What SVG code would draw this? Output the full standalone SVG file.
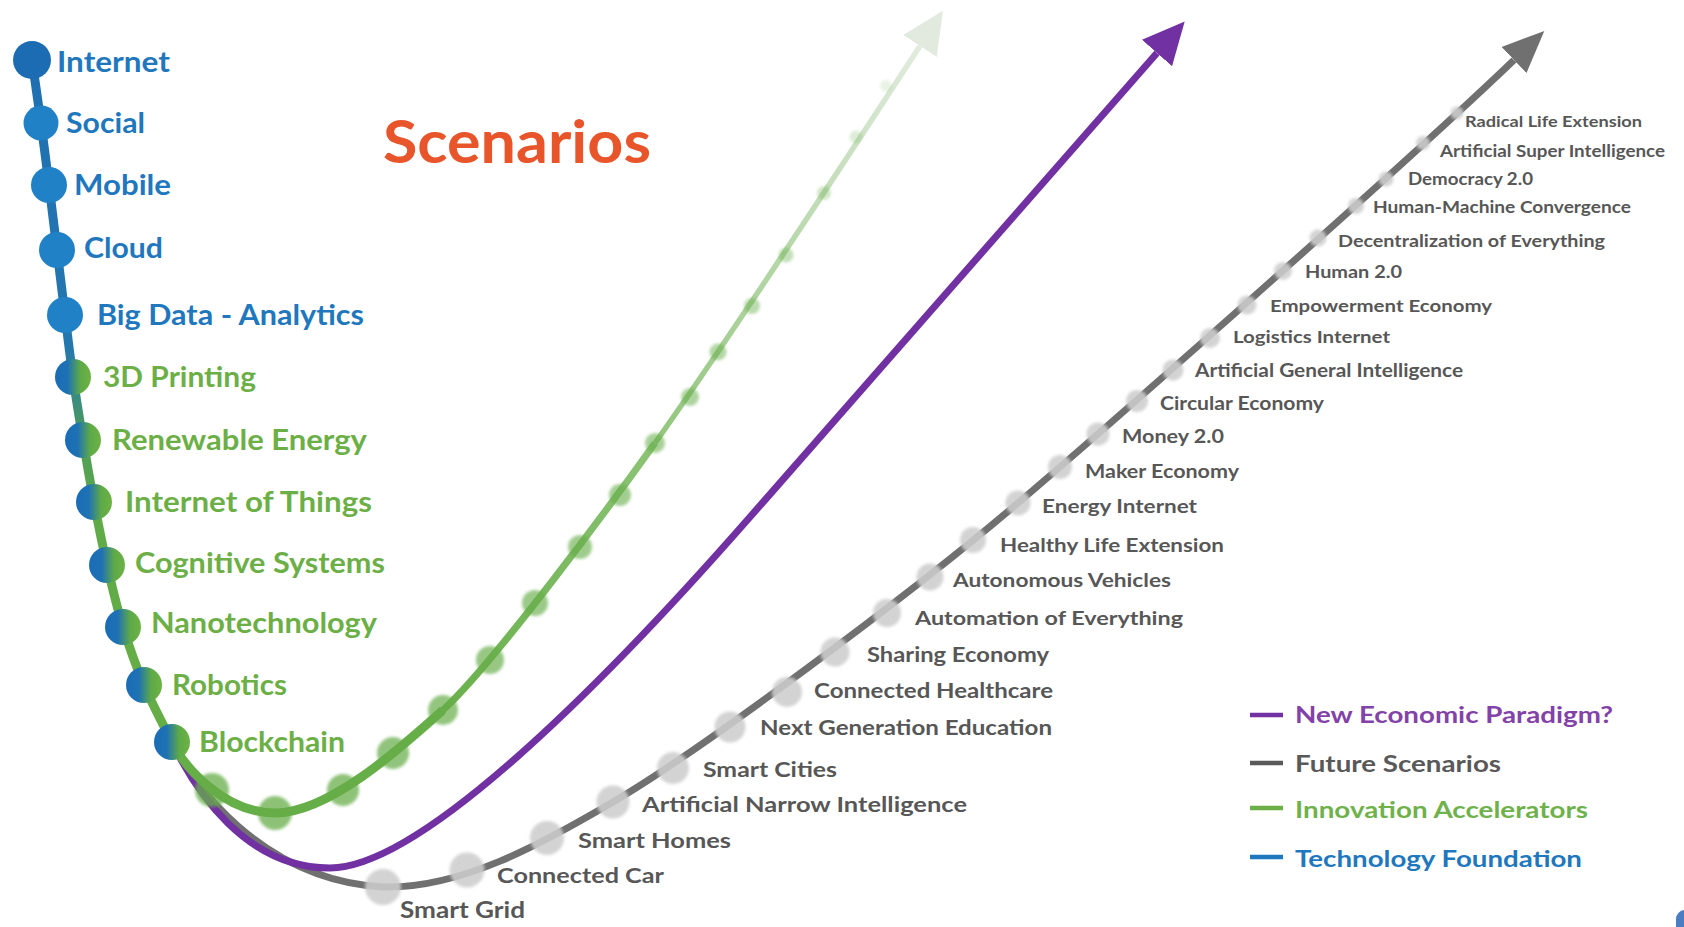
<svg xmlns="http://www.w3.org/2000/svg" width="1684" height="927" viewBox="0 0 1684 927">
  <defs>
    <style>
      .t { font-family: Lato, "Liberation Sans", Arial, sans-serif; font-weight: 700; }
      .tech { font-size: 28px; }
      .tblue { fill: #1F77BE; }
      .tgreen { fill: #6CAF46; }
      .scn { fill: #575757; }
      .gdot { fill: #CDCDCD; opacity: 0.88; filter: url(#soft); }
      .adot { fill: #66AD48; filter: url(#soft); }
      .bnode { fill: #2181C6; }
      .mnode { fill: url(#nodeGrad); }
      .leg { font-size: 22px; }
    </style>
    <filter id="soft" x="-50%" y="-50%" width="200%" height="200%">
      <feGaussianBlur stdDeviation="1.8"/>
    </filter>
    <linearGradient id="nodeGrad" x1="0" y1="0" x2="1" y2="0">
      <stop offset="0" stop-color="#1A6CB6"/>
      <stop offset="0.35" stop-color="#1E72B4"/>
      <stop offset="0.7" stop-color="#5EAA47"/>
      <stop offset="1" stop-color="#6DB244"/>
    </linearGradient>
    <linearGradient id="techLine" gradientUnits="userSpaceOnUse" x1="0" y1="60" x2="0" y2="742">
      <stop offset="0" stop-color="#1F6FB2"/>
      <stop offset="0.42" stop-color="#2477AE"/>
      <stop offset="0.56" stop-color="#4E9E58"/>
      <stop offset="0.68" stop-color="#60AB48"/>
      <stop offset="1" stop-color="#66AE46"/>
    </linearGradient>
    <linearGradient id="greenMid" gradientUnits="userSpaceOnUse" x1="443" y1="710" x2="655" y2="443">
      <stop offset="0" stop-color="#69B04B"/>
      <stop offset="1" stop-color="#8CC375"/>
    </linearGradient>
    <linearGradient id="greenTop" gradientUnits="userSpaceOnUse" x1="655" y1="443" x2="920" y2="46">
      <stop offset="0" stop-color="#92C67D"/>
      <stop offset="0.5" stop-color="#B8D8AB"/>
      <stop offset="1" stop-color="#E2EBDF"/>
    </linearGradient>
    <marker id="ahPurple" markerUnits="userSpaceOnUse" markerWidth="44" markerHeight="44" viewBox="0 -22 44 44" refX="0" refY="0" orient="auto">
      <path d="M0,-20 L42,0 L0,20 Z" fill="#7231A2"/>
    </marker>
    <marker id="ahGray" markerUnits="userSpaceOnUse" markerWidth="44" markerHeight="44" viewBox="0 -22 44 44" refX="0" refY="0" orient="auto">
      <path d="M0,-18 L42,0 L0,18 Z" fill="#707070"/>
    </marker>
    <marker id="ahGreen" markerUnits="userSpaceOnUse" markerWidth="44" markerHeight="44" viewBox="0 -22 44 44" refX="0" refY="0" orient="auto">
      <path d="M0,-20 L42,0 L0,20 Z" fill="#E2EAE0"/>
    </marker>
  </defs>

  <rect width="1684" height="927" fill="#FFFFFF"/>

  <!-- connectors -->
  <g id="connectors" fill="none" stroke-linecap="butt">
    <path id="future-scenarios-line" d="M172,742 C192,782 260,880 383,887 C460,889 540,845 613,802 C700,751 910,595 1018,503 C1126,411 1414,156 1514,60" stroke="#707070" stroke-width="7" marker-end="url(#ahGray)"/>
    <path id="paradigm-line" d="M172,742 C195,790 245,868 330,868 C420,868 600,688 750,517 C850,403 1057,167 1157,53" stroke="#7231A2" stroke-width="7" marker-end="url(#ahPurple)"/>
    <path id="accel-line-low" d="M172,742 C185,768 225,813 275,813 C330,813 405,744 443,710" stroke="#66AE47" stroke-width="9"/>
    <path id="accel-line-mid" d="M443,710 C493,665 620,492 655,443" stroke="url(#greenMid)" stroke-width="7"/>
    <path id="accel-line-top" d="M655,443 C720,352 860,138 920,46" stroke="url(#greenTop)" stroke-width="5.5" marker-end="url(#ahGreen)"/>
    <path id="tech-line" d="M32,60 C35,81 38.2,102.2 41,123 C43.8,143.8 46.3,163.8 49,185 C51.7,206.2 54.3,228.3 57,250 C59.7,271.7 62.3,293.8 65,315 C67.7,336.2 70,356.2 73,377 C76,397.8 79.5,419.2 83,440 C86.5,460.8 90,481.2 94,502 C98,522.8 102.2,544.2 107,565 C111.8,585.8 116.8,607 123,627 C129.2,647 135.8,665.8 144,685 C152.2,704.2 162.7,723.7 172,742" stroke="url(#techLine)" stroke-width="9"/>
  </g>

  <!-- innovation accelerator dots -->
  <g id="accelerator-dots">
    <circle class="adot" cx="212" cy="790" r="17" opacity="0.75"/>
    <circle class="adot" cx="275" cy="813" r="17" opacity="0.75"/>
    <circle class="adot" cx="343" cy="790" r="16" opacity="0.74"/>
    <circle class="adot" cx="393" cy="753" r="16" opacity="0.72"/>
    <circle class="adot" cx="443" cy="710" r="15" opacity="0.7"/>
    <circle class="adot" cx="490" cy="660" r="14" opacity="0.68"/>
    <circle class="adot" cx="535" cy="603" r="13" opacity="0.65"/>
    <circle class="adot" cx="580" cy="547" r="12" opacity="0.62"/>
    <circle class="adot" cx="620" cy="495" r="11" opacity="0.6"/>
    <circle class="adot" cx="655" cy="443" r="10" opacity="0.57"/>
    <circle class="adot" cx="690" cy="397" r="9" opacity="0.53"/>
    <circle class="adot" cx="718" cy="352" r="8.5" opacity="0.5"/>
    <circle class="adot" cx="752" cy="306" r="8" opacity="0.44"/>
    <circle class="adot" cx="786" cy="255" r="7.5" opacity="0.38"/>
    <circle class="adot" cx="824" cy="193" r="7" opacity="0.3"/>
    <circle class="adot" cx="856" cy="137" r="6.5" opacity="0.22"/>
    <circle class="adot" cx="886" cy="86" r="6" opacity="0.14"/>
  </g>

  <!-- future scenario nodes -->
  <g id="scn-smart-grid"><circle class="gdot" cx="383" cy="887" r="18"/><text class="t scn" x="400" y="918" font-size="22" textLength="125" lengthAdjust="spacingAndGlyphs">Smart Grid</text></g>
  <g id="scn-connected-car"><circle class="gdot" cx="467" cy="870" r="17.5"/><text class="t scn" x="497" y="883" font-size="21.7" textLength="167" lengthAdjust="spacingAndGlyphs">Connected Car</text></g>
  <g id="scn-smart-homes"><circle class="gdot" cx="547" cy="838" r="17"/><text class="t scn" x="578" y="848" font-size="21.5" textLength="153" lengthAdjust="spacingAndGlyphs">Smart Homes</text></g>
  <g id="scn-ani"><circle class="gdot" cx="613" cy="802" r="16.5"/><text class="t scn" x="642" y="812" font-size="21.2" textLength="325" lengthAdjust="spacingAndGlyphs">Artificial Narrow Intelligence</text></g>
  <g id="scn-smart-cities"><circle class="gdot" cx="673" cy="768" r="16"/><text class="t scn" x="703" y="777" font-size="21" textLength="134" lengthAdjust="spacingAndGlyphs">Smart Cities</text></g>
  <g id="scn-nge"><circle class="gdot" cx="730" cy="727" r="15.5"/><text class="t scn" x="760" y="735" font-size="20.7" textLength="292" lengthAdjust="spacingAndGlyphs">Next Generation Education</text></g>
  <g id="scn-connected-healthcare"><circle class="gdot" cx="787" cy="692" r="15"/><text class="t scn" x="814" y="698" font-size="20.4" textLength="239" lengthAdjust="spacingAndGlyphs">Connected Healthcare</text></g>
  <g id="scn-sharing-economy"><circle class="gdot" cx="835" cy="652" r="14.5"/><text class="t scn" x="867" y="662" font-size="20.2" textLength="182" lengthAdjust="spacingAndGlyphs">Sharing Economy</text></g>
  <g id="scn-automation"><circle class="gdot" cx="887" cy="613" r="14"/><text class="t scn" x="915" y="625" font-size="19.9" textLength="268" lengthAdjust="spacingAndGlyphs">Automation of Everything</text></g>
  <g id="scn-autonomous-vehicles"><circle class="gdot" cx="930" cy="577" r="13.5"/><text class="t scn" x="953" y="587" font-size="19.7" textLength="218" lengthAdjust="spacingAndGlyphs">Autonomous Vehicles</text></g>
  <g id="scn-healthy-life"><circle class="gdot" cx="973" cy="540" r="13"/><text class="t scn" x="1000" y="552" font-size="19.4" textLength="224" lengthAdjust="spacingAndGlyphs">Healthy Life Extension</text></g>
  <g id="scn-energy-internet"><circle class="gdot" cx="1018" cy="503" r="12.5"/><text class="t scn" x="1042" y="513" font-size="19.1" textLength="155" lengthAdjust="spacingAndGlyphs">Energy Internet</text></g>
  <g id="scn-maker-economy"><circle class="gdot" cx="1060" cy="467" r="12"/><text class="t scn" x="1085" y="478" font-size="18.9" textLength="154" lengthAdjust="spacingAndGlyphs">Maker Economy</text></g>
  <g id="scn-money"><circle class="gdot" cx="1098" cy="434" r="11.5"/><text class="t scn" x="1122" y="443" font-size="18.6" textLength="102" lengthAdjust="spacingAndGlyphs">Money 2.0</text></g>
  <g id="scn-circular-economy"><circle class="gdot" cx="1137" cy="401" r="11"/><text class="t scn" x="1160" y="410" font-size="18.4" textLength="164" lengthAdjust="spacingAndGlyphs">Circular Economy</text></g>
  <g id="scn-agi"><circle class="gdot" cx="1173" cy="370" r="10.5"/><text class="t scn" x="1195" y="377" font-size="18.1" textLength="268" lengthAdjust="spacingAndGlyphs">Artificial General Intelligence</text></g>
  <g id="scn-logistics-internet"><circle class="gdot" cx="1210" cy="338" r="10"/><text class="t scn" x="1233" y="343" font-size="17.8" textLength="157" lengthAdjust="spacingAndGlyphs">Logistics Internet</text></g>
  <g id="scn-empowerment-economy"><circle class="gdot" cx="1247" cy="305" r="9.5"/><text class="t scn" x="1270" y="312" font-size="17.6" textLength="222" lengthAdjust="spacingAndGlyphs">Empowerment Economy</text></g>
  <g id="scn-human"><circle class="gdot" cx="1283" cy="271" r="9"/><text class="t scn" x="1305" y="278" font-size="17.3" textLength="97" lengthAdjust="spacingAndGlyphs">Human 2.0</text></g>
  <g id="scn-decentralization"><circle class="gdot" cx="1318" cy="238" r="8.5"/><text class="t scn" x="1338" y="247" font-size="17" textLength="267" lengthAdjust="spacingAndGlyphs">Decentralization of Everything</text></g>
  <g id="scn-human-machine"><circle class="gdot" cx="1356" cy="206" r="8"/><text class="t scn" x="1373" y="213" font-size="16.8" textLength="258" lengthAdjust="spacingAndGlyphs">Human-Machine Convergence</text></g>
  <g id="scn-democracy"><circle class="gdot" cx="1386" cy="179" r="7.5"/><text class="t scn" x="1408" y="185" font-size="16.5" textLength="125" lengthAdjust="spacingAndGlyphs">Democracy 2.0</text></g>
  <g id="scn-asi"><circle class="gdot" cx="1423" cy="143" r="7"/><text class="t scn" x="1440" y="157" font-size="16.3" textLength="225" lengthAdjust="spacingAndGlyphs">Artificial Super Intelligence</text></g>
  <g id="scn-radical-life"><circle class="gdot" cx="1457" cy="113" r="6.5"/><text class="t scn" x="1465" y="127" font-size="16" textLength="177" lengthAdjust="spacingAndGlyphs">Radical Life Extension</text></g>

  <!-- technology foundation / innovation accelerator nodes -->
  <g id="tech-internet"><circle cx="32" cy="60" r="19" fill="#1B6CB3"/><text class="t tech tblue" x="57" y="72" textLength="113" lengthAdjust="spacingAndGlyphs">Internet</text></g>
  <g id="tech-social"><circle class="bnode" cx="41" cy="123" r="17.5"/><text class="t tech tblue" x="66" y="133" textLength="79" lengthAdjust="spacingAndGlyphs">Social</text></g>
  <g id="tech-mobile"><circle class="bnode" cx="49" cy="185" r="18"/><text class="t tech tblue" x="74" y="195" textLength="97" lengthAdjust="spacingAndGlyphs">Mobile</text></g>
  <g id="tech-cloud"><circle class="bnode" cx="57" cy="250" r="18"/><text class="t tech tblue" x="84" y="258" textLength="79" lengthAdjust="spacingAndGlyphs">Cloud</text></g>
  <g id="tech-bigdata"><circle class="bnode" cx="65" cy="315" r="18"/><text class="t tech tblue" x="97" y="325" textLength="267" lengthAdjust="spacingAndGlyphs">Big Data - Analytics</text></g>
  <g id="acc-3d"><circle class="mnode" cx="73" cy="377" r="18"/><text class="t tech tgreen" x="103" y="387" textLength="153" lengthAdjust="spacingAndGlyphs">3D Printing</text></g>
  <g id="acc-renewable"><circle class="mnode" cx="83" cy="440" r="18"/><text class="t tech tgreen" x="112" y="450" textLength="255" lengthAdjust="spacingAndGlyphs">Renewable Energy</text></g>
  <g id="acc-iot"><circle class="mnode" cx="94" cy="502" r="18"/><text class="t tech tgreen" x="125" y="512" textLength="247" lengthAdjust="spacingAndGlyphs">Internet of Things</text></g>
  <g id="acc-cognitive"><circle class="mnode" cx="107" cy="565" r="18"/><text class="t tech tgreen" x="135" y="573" textLength="250" lengthAdjust="spacingAndGlyphs">Cognitive Systems</text></g>
  <g id="acc-nano"><circle class="mnode" cx="123" cy="627" r="18"/><text class="t tech tgreen" x="151" y="633" textLength="226" lengthAdjust="spacingAndGlyphs">Nanotechnology</text></g>
  <g id="acc-robotics"><circle class="mnode" cx="144" cy="685" r="18"/><text class="t tech tgreen" x="172" y="695" textLength="115" lengthAdjust="spacingAndGlyphs">Robotics</text></g>
  <g id="acc-blockchain"><circle class="mnode" cx="172" cy="742" r="18"/><text class="t tech tgreen" x="199" y="752" textLength="146" lengthAdjust="spacingAndGlyphs">Blockchain</text></g>

  <!-- title -->
  <g id="title"><text class="t" x="383" y="163" font-size="60" fill="#E8552B" textLength="268" lengthAdjust="spacingAndGlyphs">Scenarios</text></g>

  <!-- legend -->
  <g id="legend">
    <line x1="1250" y1="715" x2="1283" y2="715" stroke="#7231A2" stroke-width="4.5"/>
    <text class="t leg" x="1295" y="723" fill="#8242A8" textLength="318" lengthAdjust="spacingAndGlyphs">New Economic Paradigm?</text>
    <line x1="1250" y1="763" x2="1283" y2="763" stroke="#5A5A5A" stroke-width="4.5"/>
    <text class="t leg" x="1295" y="772" fill="#595959" textLength="206" lengthAdjust="spacingAndGlyphs">Future Scenarios</text>
    <line x1="1250" y1="808" x2="1283" y2="808" stroke="#6CAF46" stroke-width="4.5"/>
    <text class="t leg" x="1295" y="818" fill="#6FB24B" textLength="293" lengthAdjust="spacingAndGlyphs">Innovation Accelerators</text>
    <line x1="1250" y1="857" x2="1283" y2="857" stroke="#1F77BE" stroke-width="4.5"/>
    <text class="t leg" x="1295" y="867" fill="#1F78BE" textLength="287" lengthAdjust="spacingAndGlyphs">Technology Foundation</text>
  </g>

  <!-- corner fragment -->
  <rect x="1676" y="910" width="30" height="30" rx="9" fill="#4A7DC1"/>
</svg>
